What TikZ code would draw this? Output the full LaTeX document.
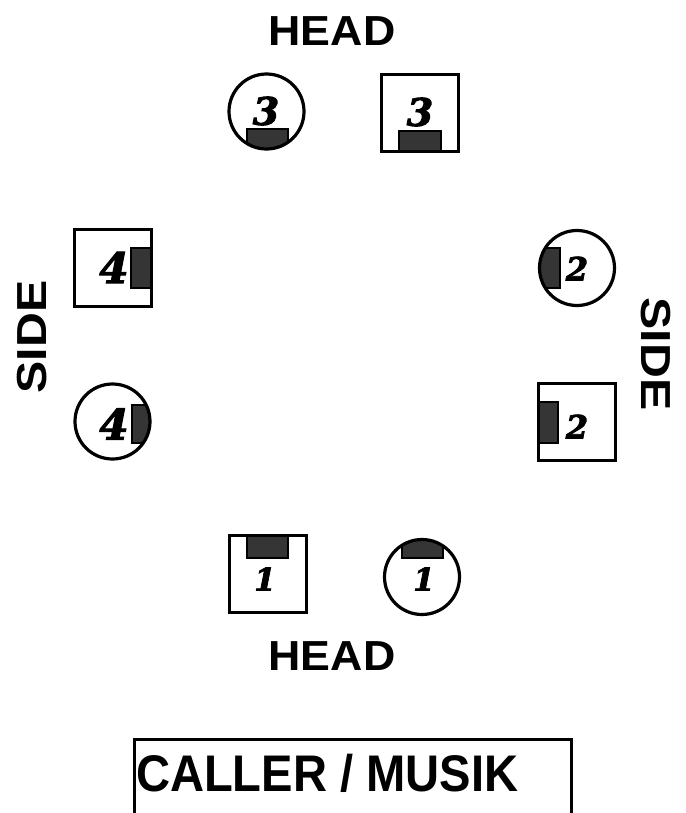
\documentclass[tikz,border=0pt]{standalone}
\usepackage{fontspec}
\setmainfont{Liberation Sans}
\newfontfamily\digitfont[FakeBold=2.5]{DejaVu Serif}
\definecolor{markgray}{HTML}{353535}
\begin{document}
\begin{tikzpicture}[x=1pt,y=-1pt,
  every node/.style={inner sep=0pt, outer sep=0pt},
  circst/.style={circle, draw, line width=3.2pt, minimum size=75pt},
  sqst/.style={rectangle, draw, line width=3pt, minimum size=77pt},
  markst/.style={fill=markgray, draw=black, line width=2.2pt},
  digit/.style={font=\digitfont\bfseries\itshape\fontsize{#1}{#1}\selectfont},
  bigtext/.style={font=\bfseries\fontsize{#1}{#1}\selectfont}
]
\useasboundingbox (0,0) rectangle (685,813);
\clip (0,0) rectangle (685,813);

% facing marks (drawn first, outlines go on top)
\begin{scope}\clip (266.5,111.5) circle (37.5);
  \draw[markst] (247,129) rectangle (288,160);\end{scope}
\draw[markst] (399,131) rectangle (441,152);
\draw[markst] (131,248) rectangle (152,288);
\begin{scope}\clip (112.5,421.5) circle (37.5);
  \draw[markst] (132,405) rectangle (160,443);\end{scope}
\begin{scope}\clip (577,268) circle (37.5);
  \draw[markst] (530,248) rectangle (560,288);\end{scope}
\draw[markst] (538,402) rectangle (558,443);
\draw[markst] (247,536) rectangle (288,558);
\begin{scope}\clip (422,577) circle (37.5);
  \draw[markst] (402,530) rectangle (443,558);\end{scope}

% dancers
\node[circst] (c3) at (266.5,111.5) {};
\node[sqst]   (s3) at (420,113) {};
\node[sqst]   (s4) at (113,267.5) {};
\node[circst] (c4) at (112.5,421.5) {};
\node[circst] (c2) at (577,268) {};
\node[sqst]   (s2) at (576.5,422) {};
\node[sqst]   (s1) at (268,574) {};
\node[circst] (c1) at (422,577) {};

% couple numbers
\node[digit=38] (n3c) at (266,111) {3};
\node[digit=38] (n3s) at (420,112) {3};
\node[digit=42] (n4s) at (114,267.5) {4};
\node[digit=42] (n4c) at (114,424) {4};
\node[digit=32] (n2c) at (577,268.5) {2};
\node[digit=32] (n2s) at (577,426.5) {2};
\node[digit=31] (n1s) at (265,579) {1};
\node[digit=31] (n1c) at (424,579) {1};

% wall labels
\node[bigtext=42, xscale=1.065] (headtop) at (332,31) {HEAD};
\node[bigtext=42, xscale=1.065] (headbot) at (332,656.5) {HEAD};
\node[bigtext=42, rotate=90, xscale=1.15] (sideleft) at (32,337) {SIDE};
\node[bigtext=42, rotate=-90, xscale=1.15] (sideright) at (656,354) {SIDE};

% caller box
\node[draw, line width=3pt, minimum width=437pt, minimum height=120pt,
      anchor=north west] (caller) at (134,739.5) {};
\node[bigtext=51.5, xscale=0.915, anchor=west] (callertext) at (136,773.5) {CALLER / MUSIK};
\end{tikzpicture}
\end{document}
